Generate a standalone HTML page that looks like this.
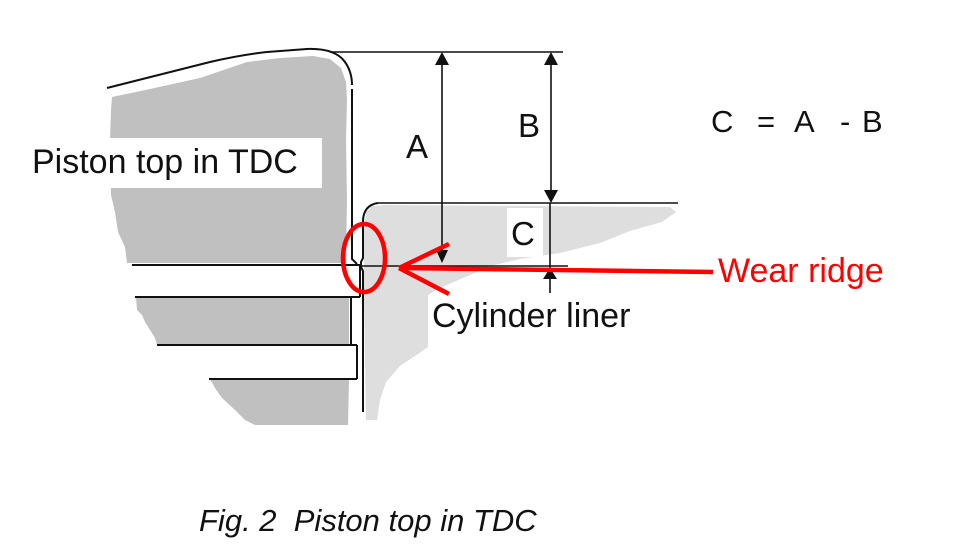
<!DOCTYPE html>
<html><head><meta charset="utf-8"><style>
html,body{margin:0;padding:0;background:#fff;}
svg{display:block;}
text{font-family:"Liberation Sans",Arial,sans-serif;}
</style></head><body>
<svg width="962" height="550" viewBox="0 0 962 550" xmlns="http://www.w3.org/2000/svg">
<!-- piston gray fills -->
<polygon fill="#c0c0c0" points="112,97 150,89 200,78 247,62 280,58 313,56 330,59 341,68 346,82 347,100 346,140 347,200 346,263 127,263 125,247 118,232 115,212 111,195 110,140 111,110"/>
<polygon fill="#c0c0c0" points="136,297 349,297 349,345 157,345 155,338 150,330 145,322 142,315 137,310"/>
<polygon fill="#c0c0c0" points="210,379 349,379 348,425 255,425 245,420 235,410 222,398 215,388"/>
<!-- liner light gray -->
<polygon fill="#dedede" points="366,212 372,206 385,205 670,207 676,212 662,222 630,231 600,243 560,253 520,259 490,266 470,275 440,288 428,295 428,347 415,356 400,366 386,382 380,400 377,420 366,420 364,300 364,230"/>
<!-- white label boxes -->
<rect x="110" y="138" width="212" height="50" fill="#fff"/>
<rect x="507" y="208" width="36" height="49" fill="#fff"/>
<rect x="428" y="295" width="210" height="52" fill="#fff"/>
<!-- piston outline -->
<g fill="none" stroke="#111" stroke-width="2">
<path d="M107,88 L210,62 Q240,55 267,52 L307,49 Q335,48 345,62 Q352,72 352,85"/>
<path d="M352,89 L352,259 L357,264"/>
<line x1="132" y1="265" x2="360" y2="265"/>
<line x1="360" y1="265" x2="360" y2="297"/>
<line x1="135" y1="297" x2="360" y2="297"/>
<line x1="351" y1="297" x2="351" y2="345"/>
<line x1="157" y1="345" x2="357" y2="345"/>
<line x1="357" y1="345" x2="357" y2="379"/>
<line x1="209" y1="379" x2="357" y2="379"/>
<!-- liner inner line -->
<path d="M378,203 Q364,205 363,220 L363,258 L361,262 L361,267 L363,271 L363,412"/>
</g>
<g stroke="#111" stroke-width="1.6" fill="none">
<line x1="330" y1="52" x2="563" y2="52"/>
<line x1="378" y1="203" x2="678" y2="203"/>
<line x1="442" y1="60" x2="442" y2="255"/>
<line x1="551" y1="60" x2="551" y2="195"/>
<line x1="550" y1="203" x2="550" y2="293"/>
<line x1="362" y1="266" x2="568" y2="266"/>
</g>
<g fill="#111">
<polygon points="442,52 435,65 449,65"/>
<polygon points="551,52 544,65 558,65"/>
<polygon points="551,203 544,190 558,190"/>
<polygon points="442,263 436,250 448,250"/>
<polygon points="550,268 543,279 557,279"/>
</g>
<!-- red wear ridge marker -->
<g stroke="#f00" stroke-width="4.5" fill="none" stroke-linecap="butt">
<ellipse cx="364" cy="258" rx="21" ry="34"/>
<line x1="400" y1="268" x2="713" y2="272"/>
<line x1="399" y1="268" x2="449" y2="244"/>
<line x1="399" y1="268" x2="449" y2="294"/>
</g>
<!-- labels -->
<text x="32" y="173" font-size="34" fill="#111">Piston top in TDC</text>
<text x="406" y="158" font-size="33" fill="#111">A</text>
<text x="518" y="137" font-size="33" fill="#111">B</text>
<text x="511" y="245" font-size="33" fill="#111">C</text>
<text x="432" y="327" font-size="34" fill="#111">Cylinder liner</text>
<text x="718" y="282" font-size="34" fill="#f00">Wear ridge</text>
<g font-size="31" fill="#111">
<text x="711" y="132">C</text>
<text x="757" y="132">=</text>
<text x="794" y="132">A</text>
<text x="840" y="132">-</text>
<text x="862" y="132">B</text>
</g>
<text x="199" y="531" font-size="31" font-style="italic" fill="#111" xml:space="preserve">Fig. 2  Piston top in TDC</text>
</svg>
</body></html>
